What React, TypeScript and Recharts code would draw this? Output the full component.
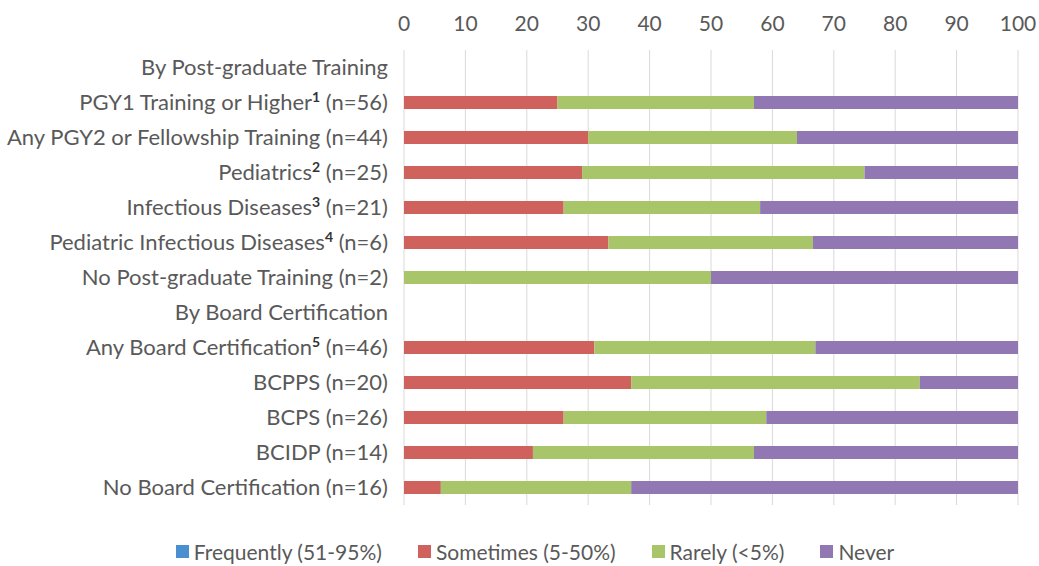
import React from 'react';
import { BarChart, Bar, XAxis, YAxis, CartesianGrid, Legend } from 'recharts';

// Row labels, top to bottom
const categories = [
  'By Post-graduate Training',
  'PGY1 Training or Higher',
  'Any PGY2 or Fellowship Training',
  'Pediatrics',
  'Infectious Diseases',
  'Pediatric Infectious Diseases',
  'No Post-graduate Training',
  'By Board Certification',
  'Any Board Certification',
  'BCPPS',
  'BCPS',
  'BCIDP',
  'No Board Certification',
];
const superscripts = ['', '1', '', '2', '3', '4', '', '', '5', '', '', '', ''];
const counts = ['', '(n=56)', '(n=44)', '(n=25)', '(n=21)', '(n=6)', '(n=2)', '', '(n=46)', '(n=20)', '(n=26)', '(n=14)', '(n=16)'];

// Percentages by response
const frequently = [null, 0, 0, 0, 0, 0, 0, null, 0, 0, 0, 0, 0];
const sometimes = [null, 25, 30, 29, 26, 33.3, 0, null, 31, 37, 26, 21, 6];
const rarely = [null, 32, 34, 46, 32, 33.3, 50, null, 36, 47, 33, 36, 31];
const never = [null, 43, 36, 25, 42, 33.4, 50, null, 33, 16, 41, 43, 63];

const xTicks = [0, 10, 20, 30, 40, 50, 60, 70, 80, 90, 100];

const SERIES = [
  { key: 'frequently', name: 'Frequently (51-95%)', color: '#4A8FD0' },
  { key: 'sometimes', name: 'Sometimes (5-50%)', color: '#CF625C' },
  { key: 'rarely', name: 'Rarely (<5%)', color: '#A8C56A' },
  { key: 'never', name: 'Never', color: '#9178B3' },
];

const data = categories.map((name, i) => ({
  name,
  sup: superscripts[i],
  count: counts[i],
  frequently: frequently[i],
  sometimes: sometimes[i],
  rarely: rarely[i],
  never: never[i],
}));

const FONT = 'Lato, "Open Sans", sans-serif';
const TEXT = '#595959';

const RowTick = (props: any) => {
  const { x, y, payload } = props;
  const row = data[payload.index] || data.find(d => d.name === payload.value);
  return (
    <text x={x - 8} y={y} dy={7} textAnchor="end" fill={TEXT} fontSize={22} fontFamily={FONT}>
      <tspan>{row.name}</tspan>
      {row.sup && (
        <tspan dy={-8} fontSize={14} fontWeight="bold" fill="#333">{row.sup}</tspan>
      )}
      {row.count && <tspan dy={row.sup ? 8 : 0}>{(row.sup ? '  ' : ' ') + row.count}</tspan>}
    </text>
  );
};

const LegendContent = () => (
  <div style={{ display: 'flex', justifyContent: 'center', gap: 36, fontFamily: FONT, fontSize: 21, color: TEXT, paddingLeft: 52 }}>
    {SERIES.map(s => (
      <div key={s.key} style={{ display: 'flex', alignItems: 'center' }}>
        <span style={{ width: 13, height: 13, background: s.color, display: 'inline-block', marginRight: 5 }} />
        <span>{s.name}</span>
      </div>
    ))}
  </div>
);

export default function App() {
  return (
    <div style={{ position: 'absolute', left: 0, top: 0, width: 1039, height: 566, background: '#fff' }}>
      <BarChart
        width={1039}
        height={566}
        data={data}
        layout="vertical"
        margin={{ top: 20, right: 21, left: 0, bottom: 36 }}
      >
        <CartesianGrid horizontal={false} stroke="#D9D9D9" />
        <XAxis
          type="number"
          orientation="top"
          domain={[0, 100]}
          ticks={xTicks}
          axisLine={false}
          tickLine={false}
          tickSize={0}
          tickMargin={19}
          height={30}
          tick={{ fill: TEXT, fontSize: 21, fontFamily: FONT }}
        />
        <YAxis
          type="category"
          dataKey="name"
          width={404}
          axisLine={false}
          tickLine={false}
          interval={0}
          tick={<RowTick />}
        />
        <Legend verticalAlign="bottom" content={<LegendContent />} wrapperStyle={{ bottom: 2 }} />
        {SERIES.map(s => (
          <Bar
            key={s.key}
            dataKey={s.key}
            name={s.name}
            stackId="a"
            fill={s.color}
            barSize={13}
            isAnimationActive={false}
          />
        ))}
      </BarChart>
    </div>
  );
}
